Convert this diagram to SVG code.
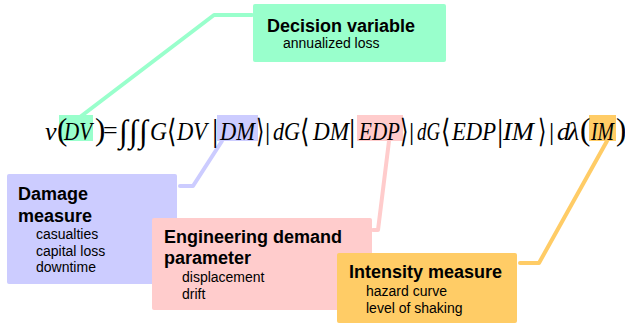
<svg xmlns="http://www.w3.org/2000/svg" width="625" height="324" viewBox="0 0 625 324">
<style>
.t{font-family:"Liberation Sans",Arial,sans-serif;font-weight:bold;font-size:18px;fill:#000}
.s{font-family:"Liberation Sans",Arial,sans-serif;font-size:14px;fill:#000}
.m{font-family:"Liberation Serif","Times New Roman",serif;font-style:italic;font-size:26px;fill:#000}
.u{font-family:"Liberation Serif","Times New Roman",serif;font-size:26px;fill:#000}
.p{font-family:"Liberation Serif","Times New Roman",serif;font-size:31px;fill:#000}
.v{font-family:"Liberation Serif","Times New Roman",serif;font-size:32px;fill:#000}
.b{font-family:"DejaVu Sans",sans-serif;font-weight:200;font-size:32px;fill:#000}
.c{fill:none;stroke-width:4;stroke-linecap:round;stroke-linejoin:round}
</style>
<rect x="0" y="0" width="625" height="324" fill="#fff"/>
<g id="highlights">
<rect x="59" y="115" width="34" height="26" fill="#99FFCC"/>
<rect x="217" y="115" width="41" height="26" fill="#CCCCFF"/>
<rect x="357" y="115" width="46" height="26" fill="#FFCCCC"/>
<rect x="589" y="115" width="27" height="26" fill="#FFCC66"/>
</g>
<g id="connectors">
<polyline class="c" stroke="#99FFCC" points="252,15 214,15 80,117"/>
<polyline class="c" stroke="#CCCCFF" points="180,186 193,186 222,141"/>
<polyline class="c" stroke="#FFCCCC" points="373,230 378,230 389,141"/>
<polyline class="c" stroke="#FFCC66" points="520,263 539,263 607,141"/>
</g>
<g id="equation">
<text class="m" x="45" y="140">v</text>
<text class="p" x="57" y="140">(</text>
<text class="m" x="64" y="140" textLength="28" lengthAdjust="spacingAndGlyphs">DV</text>
<text class="p" x="95" y="140">)</text>
<text class="u" x="103" y="139">=</text>
<text class="v" x="119" y="142">∫</text>
<text class="v" x="129" y="142">∫</text>
<text class="v" x="139" y="142">∫</text>
<text class="m" x="150" y="140" textLength="17" lengthAdjust="spacingAndGlyphs">G</text>
<text class="b" x="167" y="142" textLength="9" lengthAdjust="spacingAndGlyphs">⟨</text>
<text class="m" x="177" y="140" textLength="30" lengthAdjust="spacingAndGlyphs">DV</text>
<text class="v" x="212" y="141">|</text>
<text class="m" x="220" y="140" textLength="35" lengthAdjust="spacingAndGlyphs">DM</text>
<text class="b" x="256" y="142" textLength="8" lengthAdjust="spacingAndGlyphs">⟩</text>
<text class="u" x="265" y="140">|</text>
<text class="m" x="273" y="140" textLength="27" lengthAdjust="spacingAndGlyphs">dG</text>
<text class="b" x="300" y="142" textLength="9" lengthAdjust="spacingAndGlyphs">⟨</text>
<text class="m" x="313" y="140" textLength="36" lengthAdjust="spacingAndGlyphs">DM</text>
<text class="v" x="349" y="141">|</text>
<text class="m" x="359" y="140" textLength="41" lengthAdjust="spacingAndGlyphs">EDP</text>
<text class="b" x="400" y="142" textLength="8" lengthAdjust="spacingAndGlyphs">⟩</text>
<text class="u" x="409" y="140">|</text>
<text class="m" x="417" y="140" textLength="23" lengthAdjust="spacingAndGlyphs">dG</text>
<text class="b" x="441" y="142" textLength="9" lengthAdjust="spacingAndGlyphs">⟨</text>
<text class="m" x="452" y="140" textLength="44" lengthAdjust="spacingAndGlyphs">EDP</text>
<text class="v" x="497" y="141">|</text>
<text class="m" x="503" y="140" textLength="31" lengthAdjust="spacingAndGlyphs">IM</text>
<text class="b" x="538" y="142" textLength="8" lengthAdjust="spacingAndGlyphs">⟩</text>
<text class="u" x="549" y="140">|</text>
<text class="m" x="557" y="140">d</text>
<text class="m" x="568" y="140">λ</text>
<text class="p" x="580" y="140">(</text>
<text class="m" x="591" y="140" textLength="23" lengthAdjust="spacingAndGlyphs">IM</text>
<text class="p" x="616" y="140">)</text>
</g>
<g id="decision">
<rect x="253" y="4" width="193" height="58" rx="2" fill="#99FFCC"/>
<text class="t" x="267" y="32">Decision variable</text>
<text class="s" x="283" y="48">annualized loss</text>
</g>
<g id="damage">
<rect x="7" y="174" width="170" height="110" rx="2" fill="#CCCCFF"/>
<text class="t" x="18" y="200">Damage</text>
<text class="t" x="18" y="222">measure</text>
<text class="s" x="36" y="239">casualties</text>
<text class="s" x="36" y="256">capital loss</text>
<text class="s" x="36" y="272">downtime</text>
</g>
<g id="edp">
<rect x="152" y="218" width="220" height="92" rx="2" fill="#FFCCCC"/>
<text class="t" x="164" y="243">Engineering demand</text>
<text class="t" x="164" y="264">parameter</text>
<text class="s" x="182" y="282">displacement</text>
<text class="s" x="182" y="299">drift</text>
</g>
<g id="intensity">
<rect x="337" y="253" width="180" height="70" rx="2" fill="#FFCC66"/>
<text class="t" x="349" y="278">Intensity measure</text>
<text class="s" x="366" y="296">hazard curve</text>
<text class="s" x="366" y="313">level of shaking</text>
</g>
</svg>
